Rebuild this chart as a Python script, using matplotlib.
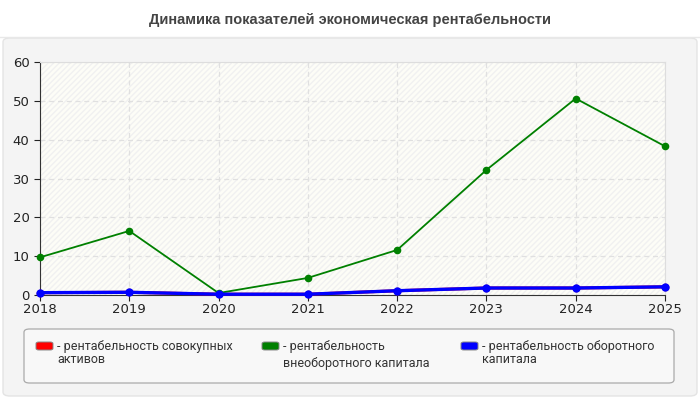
import matplotlib
matplotlib.use("Agg")
import matplotlib.pyplot as plt
from matplotlib.patches import FancyBboxPatch, Rectangle
from matplotlib.lines import Line2D

years = [2018, 2019, 2020, 2021, 2022, 2023, 2024, 2025]
year_labels = ["2018", "2019", "2020", "2021", "2022", "2023", "2024", "2025"]
assets_total = [0.6, 0.7, 0.2, 0.2, 1.1, 1.8, 1.8, 2.1]
non_current = [9.7, 16.5, 0.5, 4.4, 11.6, 32.2, 50.6, 38.3]
current = [0.6, 0.7, 0.2, 0.2, 1.1, 1.8, 1.8, 2.1]
y_ticks = [0, 10, 20, 30, 40, 50, 60]
series_names = ["рентабельность совокупных\nактивов",
                "рентабельность\nвнеоборотного капитала",
                "рентабельность оборотного\nкапитала"]
series_colors = ["#ff0000", "#008000", "#0000ff"]
title = "Динамика показателей экономическая рентабельности"

W, H = 700, 400
fig = plt.figure(figsize=(7, 4), dpi=100)
fig.patch.set_facecolor("white")

def px(x, y):
    return x / W, 1 - y / H

# panel
panel = FancyBboxPatch(px(3, 396), (694) / W, (358) / H,
                       boxstyle="round,pad=0,rounding_size=0.01",
                       transform=fig.transFigure, fc="#f4f4f4", ec="#e4e4e4", lw=1, zorder=-5)
fig.patches.append(panel)
fig.add_artist(Line2D([0, 1], [1 - 37 / H] * 2, transform=fig.transFigure, color="#e8e8e8", lw=1, zorder=-4))
fig.text(0.5, 1 - 20 / H, title, ha="center", va="center", fontsize=10.5, fontweight="bold",
         color="#444444", family="Liberation Sans")

ax = fig.add_axes([40 / W, 1 - 295 / H, 625 / W, 233 / H])
ax.set_zorder(2)
ax.set_facecolor("#fdfdf7")
ax.add_patch(Rectangle((0, 0), 1, 1, transform=ax.transAxes, fill=False, hatch="//////",
                       ec="#f1f1f1", lw=0, zorder=0))
ax.set_xlim(years[0], years[-1])
ax.set_ylim(0, 60)
ax.set_yticks(y_ticks)
ax.set_xticks(years)
ax.set_xticklabels(year_labels)
ax.grid(True, ls=(0, (4, 3)), color="#e0e0e0", lw=0.9)
ax.set_axisbelow(True)
for s in ["top", "right"]:
    ax.spines[s].set_color("#dddddd")
for s in ["left", "bottom"]:
    ax.spines[s].set_color("#333333")
ax.tick_params(labelsize=9.5, colors="#222222", length=4, width=0.8)
ax.tick_params(axis="x", pad=2)

ax.plot(years, assets_total, color=series_colors[0], lw=2.2, marker="o", ms=5.5, mew=0,
        clip_on=False, zorder=3)
ax.plot(years, non_current, color=series_colors[1], lw=1.3, marker="o", ms=5.5, mew=0,
        clip_on=False, zorder=4)
ax.plot(years, current, color=series_colors[2], lw=2.4, marker="o", ms=6, mew=0,
        clip_on=False, zorder=5)

# legend box
lg = FancyBboxPatch(px(24, 383), 650 / W, 54 / H, boxstyle="round,pad=0,rounding_size=0.008",
                    transform=fig.transFigure, fc="#f8f8f8", ec="#aaaaaa", lw=0.9, zorder=1)
fig.patches.append(lg)
entry_x = [36, 262, 461]
for xx, name, col in zip(entry_x, series_names, series_colors):
    sw = FancyBboxPatch(px(xx, 350), 17 / W, 8 / H, boxstyle="round,pad=0,rounding_size=0.004",
                        transform=fig.transFigure, fc=col, ec="#888888", lw=0.7, zorder=2)
    fig.patches.append(sw)
    fig.text(*px(xx + 21, 340), "- " + name, ha="left", va="top", fontsize=9,
             family="Roboto", color="#333333", linespacing=1.0 if "совокупных" in name or "оборотного\n" in name else 1.35)

fig.savefig("out.png", dpi=100, facecolor="white")
